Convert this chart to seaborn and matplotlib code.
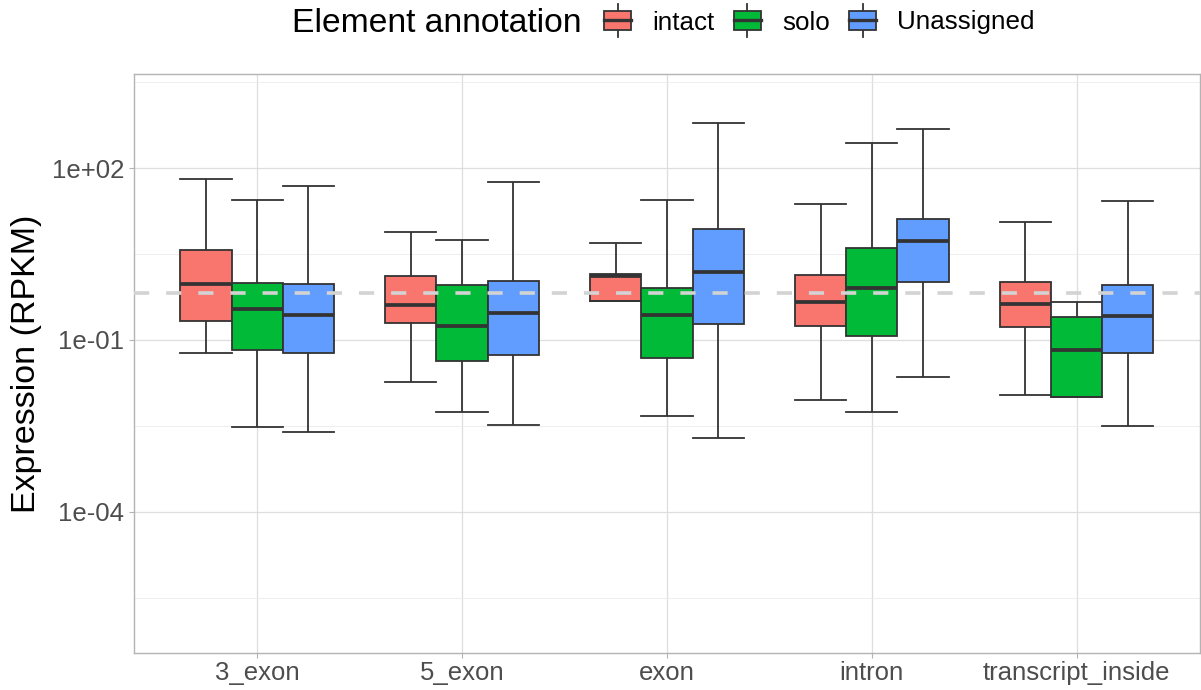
import numpy as np
import pandas as pd
import matplotlib
matplotlib.use("Agg")
import matplotlib.pyplot as plt
import seaborn as sns
from matplotlib.legend_handler import HandlerBase
from matplotlib.patches import Rectangle, Patch
from matplotlib.lines import Line2D
from matplotlib.ticker import FixedLocator, NullFormatter

# ---------------- data ----------------
categories = ["3_exon", "5_exon", "exon", "intron", "transcript_inside"]
annotations = ["intact", "solo", "Unassigned"]
palette = ["#F8766D", "#00BA38", "#619CFF"]

# five-number summaries in log10(RPKM): [whisker low, Q1, median, Q3, whisker high]
intact_log10 = [
    [-1.22, -0.66, -0.03, 0.57, 1.82],
    [-1.73, -0.71, -0.38, 0.11, 0.88],
    [-0.32, -0.32, 0.12, 0.15, 0.70],
    [-2.04, -0.75, -0.34, 0.13, 1.37],
    [-1.96, -0.78, -0.37, 0.01, 1.07],
]
solo_log10 = [
    [-2.52, -1.18, -0.46, 0.00, 1.45],
    [-2.25, -1.36, -0.75, -0.04, 0.75],
    [-2.32, -1.32, -0.56, -0.09, 1.44],
    [-2.26, -0.93, -0.10, 0.60, 2.44],
    [-1.99, -1.99, -1.18, -0.59, -0.33],
]
unassigned_log10 = [
    [-2.61, -1.23, -0.56, -0.02, 1.69],
    [-2.48, -1.26, -0.52, 0.03, 1.76],
    [-2.71, -0.72, 0.19, 0.94, 2.80],
    [-1.65, 0.01, 0.73, 1.11, 2.68],
    [-2.51, -1.22, -0.58, -0.04, 1.43],
]
reference_level = 0.66  # dashed horizontal line (RPKM)

y_tick_values = [1e-4, 1e-1, 1e2]
y_tick_labels = ["1e-04", "1e-01", "1e+02"]
y_minor_values = [10 ** -5.5, 10 ** -2.5, 10 ** 0.5, 10 ** 3.5]
y_limits_log10 = (-6.475, 3.643)

# ---------------- build long table ----------------
rows = []
for ann, summaries in zip(annotations, [intact_log10, solo_log10, unassigned_log10]):
    for cat, summ in zip(categories, summaries):
        for v in summ:
            rows.append({"feature": cat, "annotation": ann, "expression": 10 ** v})
df = pd.DataFrame(rows)

# ---------------- style ----------------
plt.rcParams["font.family"] = ["Liberation Sans", "DejaVu Sans"]
line_col = "#333333"
lw_box = 1.3

W, H = 1201, 690
fig = plt.figure(figsize=(W / 100, H / 100), dpi=100)
left, right, top, bottom = 134.3, 1199.5, 74.3, 653.3
ax = fig.add_axes([left / W, 1 - bottom / H, (right - left) / W, (bottom - top) / H])

sns.boxplot(
    data=df, x="feature", y="expression", hue="annotation",
    order=categories, hue_order=annotations, palette=palette,
    saturation=1, width=0.75, gap=0, dodge=True, whis=(0, 100),
    showfliers=False, linecolor=line_col, linewidth=lw_box,
    medianprops=dict(linewidth=2.7), capwidths=0.25,
    log_scale=True, ax=ax, legend=True,
)

handles, labels = ax.get_legend_handles_labels()
if ax.legend_ is not None:
    ax.legend_.remove()
if not handles:
    handles = [Patch(facecolor=c, edgecolor=line_col) for c in palette]
    labels = annotations

ax.axhline(reference_level, color="#D3D3D3", lw=2.6, dashes=(4.2, 4.7), zorder=6)

ax.set_xlim(-0.6, len(categories) - 0.4)
ax.set_ylim(10 ** y_limits_log10[0], 10 ** y_limits_log10[1])
ax.set_yticks(y_tick_values)
ax.set_yticklabels(y_tick_labels)
ax.yaxis.set_minor_locator(FixedLocator(y_minor_values))
ax.yaxis.set_minor_formatter(NullFormatter())
ax.xaxis.set_minor_locator(FixedLocator([]))

ax.set_axisbelow(True)
ax.grid(which="major", color="#DEDEDE", lw=0.9)
ax.yaxis.grid(which="minor", color="#EBEBEB", lw=0.6)
for s in ax.spines.values():
    s.set_color("#B3B3B3")
    s.set_linewidth(1.0)

ax.tick_params(which="major", color="#B3B3B3", length=3.8, width=0.8,
               labelcolor="#4D4D4D", labelsize=18.5)
ax.tick_params(axis="x", pad=2)
ax.tick_params(axis="y", pad=3.5)
ax.tick_params(which="minor", length=0)

ax.set_xlabel("")
ax.set_ylabel("Expression (RPKM)", fontsize=24.5, color="black")
ax.yaxis.label.set(ha="center", va="center", rotation_mode="anchor")
ax.yaxis.set_label_coords((27 - left) / (right - left), 0.5)


class BoxKey(HandlerBase):
    def create_artists(self, legend, orig_handle, xdescent, ydescent,
                       width, height, fontsize, trans):
        fc = orig_handle.get_facecolor()
        x0, y0 = -xdescent, -ydescent
        cx = x0 + width / 2
        ext = 0.4 * height
        w1 = Line2D([cx, cx], [y0 - ext, y0], color=line_col, lw=lw_box, transform=trans)
        w2 = Line2D([cx, cx], [y0 + height, y0 + height + ext], color=line_col, lw=lw_box,
                    transform=trans)
        rect = Rectangle((x0, y0), width, height, facecolor=fc, edgecolor=line_col,
                         lw=lw_box, transform=trans)
        med = Line2D([x0, x0 + width], [y0 + height / 2] * 2, color=line_col, lw=2.4,
                     transform=trans)
        return [w1, w2, rect, med]


fig.legend(handles, labels, loc="center left",
           bbox_to_anchor=(604 / W, 1 - 22.5 / H), ncol=3, frameon=False,
           fontsize=18.7, handlelength=1.05, handleheight=0.7,
           handletextpad=0.8, columnspacing=0.75, borderpad=0, borderaxespad=0,
           handler_map={type(h): BoxKey() for h in handles})
fig.text(292 / W, 1 - 24 / H, "Element annotation", fontsize=24.2,
         ha="left", va="center", color="black")

fig.savefig("out.png", dpi=100)
